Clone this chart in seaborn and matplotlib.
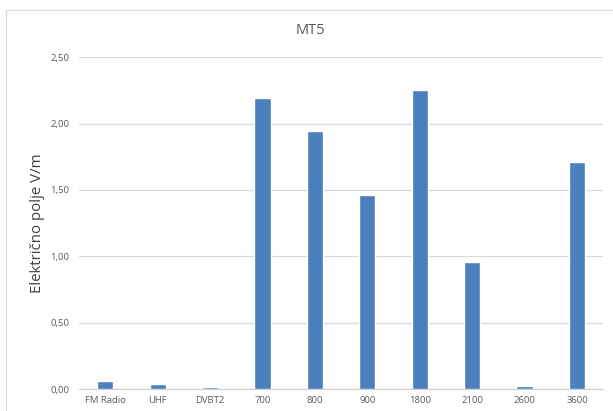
import matplotlib
matplotlib.use("Agg")
import matplotlib.pyplot as plt
import matplotlib.patches as mpatches
import pandas as pd
import seaborn as sns

# data
categories = ["FM Radio", "UHF", "DVBT2", "700", "800", "900", "1800", "2100", "2600", "3600"]
values = [0.06, 0.04, 0.015, 2.19, 1.94, 1.46, 2.25, 0.96, 0.02, 1.71]
yticks = [0.0, 0.5, 1.0, 1.5, 2.0, 2.5]
ytick_labels = ["0,00", "0,50", "1,00", "1,50", "2,00", "2,50"]

df = pd.DataFrame({"band": categories, "field": values})

sns.set_theme(style="white")
plt.rcParams["font.family"] = ["Open Sans", "DejaVu Sans"]

fig = plt.figure(figsize=(6.13, 4.11), dpi=100)
ax = fig.add_axes([0.129, 0.0535, 0.855, 0.8075])

sns.barplot(data=df, x="band", y="field", color="#4b7fbd", width=0.31,
            saturation=1, ax=ax, zorder=3)

ax.set_ylim(0, 2.5)
ax.set_yticks(yticks)
ax.set_yticklabels(ytick_labels)
ax.yaxis.grid(True, color="#d9d9d9", linewidth=0.9, zorder=0)
ax.set_axisbelow(True)
for side in ["top", "right", "left"]:
    ax.spines[side].set_visible(False)
ax.spines["bottom"].set_color("#d0d0d0")
ax.spines["bottom"].set_linewidth(0.9)
ax.tick_params(axis="both", length=0, labelsize=6.8, colors="#595959", pad=7)
ax.tick_params(axis="x", pad=5)
ax.set_xlabel("")
ax.set_ylabel("Električno polje V/m", fontsize=10.8, color="#404040", labelpad=4)

fig.text(0.507, 0.925, "MT5", ha="center", va="center", fontsize=10.5, color="#595959")

# chart-area border like Excel
fig.patches.append(mpatches.Rectangle((6 / 613, -0.1), 1.2, 1.1 - 10 / 411,
                                      transform=fig.transFigure, fill=False,
                                      edgecolor="#d9d9d9", linewidth=0.9))

fig.savefig("out.png", dpi=100)
